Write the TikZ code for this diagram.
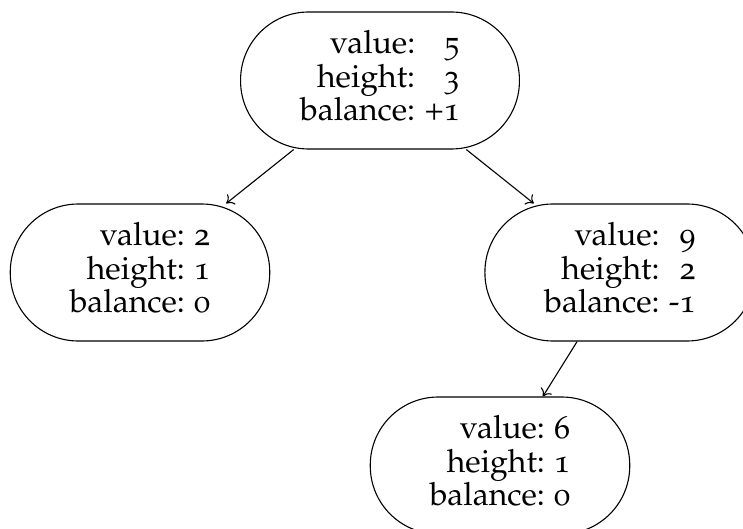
\documentclass[tikz,border=0pt]{standalone}
\usepackage[T1]{fontenc}
\usepackage[osf]{mathpazo}
\usetikzlibrary{arrows.meta}
\begin{document}
\begin{tikzpicture}[x=1pt,y=-1pt,
  avl/.style={draw, rectangle, rounded corners=68pt, minimum height=137pt,
    inner xsep=59.5pt, inner ysep=0pt, line width=1.1pt,
    font=\fontsize{32}{33.5}\selectfont},
  link/.style={-{Computer Modern Rightarrow[length=7pt,width=13pt]}, line width=1.1pt}]
\useasboundingbox (0,0) rectangle (743,529);
\node[avl] (n5) at (380,80.5) {\begin{tabular}{@{}r@{\ }r@{}}value: & 5\\ height: & 3\\ balance: & +1\end{tabular}};
\node[avl] (n2) at (140,272.5) {\begin{tabular}{@{}r@{\ }r@{}}value: & 2\\ height: & 1\\ balance: & 0\end{tabular}};
\node[avl] (n9) at (620,272.5) {\begin{tabular}{@{}r@{\ }r@{}}value: & 9\\ height: & 2\\ balance: & -1\end{tabular}};
\node[avl] (n6) at (500,465.5) {\begin{tabular}{@{}r@{\ }r@{}}value: & 6\\ height: & 1\\ balance: & 0\end{tabular}};
\draw[link] (n5) -- (n2);
\draw[link] (n5) -- (n9);
\draw[link] (n9) -- (n6);
\end{tikzpicture}
\end{document}
